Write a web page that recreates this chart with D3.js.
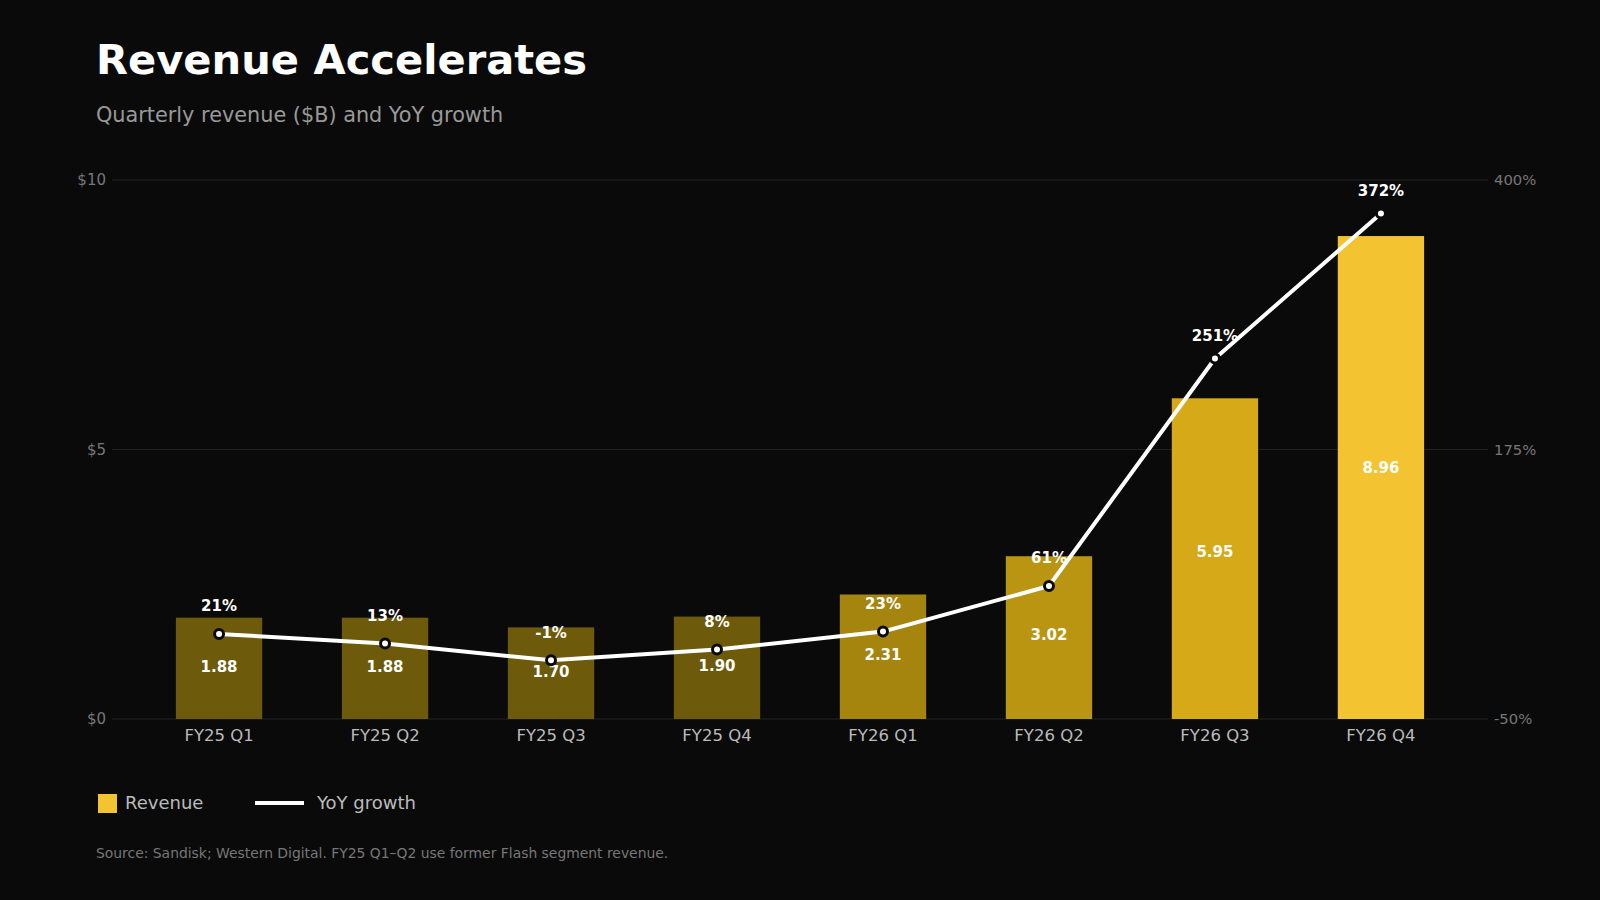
<!DOCTYPE html>
<html>
<head>
    <title>Revenue Accelerates</title>
    <script src="https://d3js.org/d3.v7.min.js"></script>
    <style>
        html, body { margin: 0; padding: 0; background: #0a0a0a; }
        svg { display: block; font-family: "DejaVu Sans", sans-serif; }
    </style>
</head>
<body>
    <div class="chart"></div>
    <script>
        // Data
        const quarters = ["FY25 Q1", "FY25 Q2", "FY25 Q3", "FY25 Q4", "FY26 Q1", "FY26 Q2", "FY26 Q3", "FY26 Q4"];
        const revenue = [1.88, 1.88, 1.70, 1.90, 2.31, 3.02, 5.95, 8.96];
        const growth = [21, 13, -1, 8, 23, 61, 251, 372];
        const revenueTicks = [0, 5, 10];
        const growthTicks = [-50, 175, 400];
        const barColors = ["#6e5a0b", "#6e5a0b", "#6e5a0b", "#6e5a0b", "#a6850f", "#b99512", "#d5a918", "#f3c331"];

        const W = 1600, H = 900;
        const plot = {left: 112, right: 1488, top: 180, bottom: 719};

        const svg = d3.select(".chart")
            .append("svg")
            .attr("width", W)
            .attr("height", H);

        svg.append("rect").attr("width", W).attr("height", H).attr("fill", "#0a0a0a");

        // Title block
        svg.append("text")
            .attr("x", 96).attr("y", 74)
            .attr("fill", "#ffffff")
            .attr("font-size", 41.6).attr("font-weight", "bold")
            .text("Revenue Accelerates");

        svg.append("text")
            .attr("x", 96).attr("y", 122)
            .attr("fill", "#999999")
            .attr("font-size", 20.8)
            .text("Quarterly revenue ($B) and YoY growth");

        // Scales
        const x = d3.scaleBand()
            .domain(quarters)
            .range([plot.left, plot.right])
            .paddingInner(0.48)
            .paddingOuter(0.385);

        const yL = d3.scaleLinear().domain([0, 10]).range([plot.bottom, plot.top]);
        const yR = d3.scaleLinear().domain([-50, 400]).range([plot.bottom, plot.top]);

        // Gridlines
        svg.append("g")
            .selectAll("line")
            .data(revenueTicks)
            .join("line")
            .attr("x1", plot.left).attr("x2", plot.right)
            .attr("y1", d => yL(d)).attr("y2", d => yL(d))
            .attr("stroke", "#222222")
            .attr("stroke-width", 1);

        // Left axis
        const leftAxis = svg.append("g")
            .attr("transform", `translate(${plot.left},0)`)
            .call(d3.axisLeft(yL).tickValues(revenueTicks).tickFormat(d => "$" + d).tickSize(0).tickPadding(6));
        leftAxis.select(".domain").remove();
        leftAxis.selectAll("text").attr("fill", "#777777").attr("font-size", 15).attr("font-family", "DejaVu Sans");

        // Right axis
        const rightAxis = svg.append("g")
            .attr("transform", `translate(${plot.right},0)`)
            .call(d3.axisRight(yR).tickValues(growthTicks).tickFormat(d => d + "%").tickSize(0).tickPadding(6));
        rightAxis.select(".domain").remove();
        rightAxis.selectAll("text").attr("fill", "#777777").attr("font-size", 14.8).attr("font-family", "DejaVu Sans");

        // Bottom axis
        const bottomAxis = svg.append("g")
            .attr("transform", `translate(0,${plot.bottom})`)
            .call(d3.axisBottom(x).tickSize(0).tickPadding(10));
        bottomAxis.select(".domain").remove();
        bottomAxis.selectAll("text").attr("fill", "#bbbbbb").attr("font-size", 16.5).attr("font-family", "DejaVu Sans");

        const rows = quarters.map((q, i) => ({q, rev: revenue[i], g: growth[i], color: barColors[i]}));

        // Bars
        svg.append("g")
            .selectAll("rect")
            .data(rows)
            .join("rect")
            .attr("x", d => x(d.q))
            .attr("y", d => yL(d.rev))
            .attr("width", x.bandwidth())
            .attr("height", d => yL(0) - yL(d.rev))
            .attr("fill", d => d.color);

        // Revenue labels inside bars
        svg.append("g")
            .selectAll("text")
            .data(rows)
            .join("text")
            .attr("x", d => x(d.q) + x.bandwidth() / 2)
            .attr("y", d => yL(d.rev * 0.52))
            .attr("dy", "0.35em")
            .attr("text-anchor", "middle")
            .attr("fill", "#ffffff")
            .attr("font-size", 15).attr("font-weight", "bold")
            .text(d => d.rev.toFixed(2));

        // Growth line
        const line = d3.line()
            .x(d => x(d.q) + x.bandwidth() / 2)
            .y(d => yR(d.g));

        svg.append("path")
            .datum(rows)
            .attr("d", line)
            .attr("fill", "none")
            .attr("stroke", "#ffffff")
            .attr("stroke-width", 4)
            .attr("stroke-linejoin", "round");

        svg.append("g")
            .selectAll("circle")
            .data(rows)
            .join("circle")
            .attr("cx", d => x(d.q) + x.bandwidth() / 2)
            .attr("cy", d => yR(d.g))
            .attr("r", 4.5)
            .attr("fill", "#ffffff")
            .attr("stroke", "#0a0a0a")
            .attr("stroke-width", 3);

        // Growth labels: closer to the point when it sits above the bar
        svg.append("g")
            .selectAll("text")
            .data(rows)
            .join("text")
            .attr("x", d => x(d.q) + x.bandwidth() / 2)
            .attr("y", d => yR(d.g) - (yR(d.g) < yL(d.rev) ? 22.5 : 28))
            .attr("dy", "0.35em")
            .attr("text-anchor", "middle")
            .attr("fill", "#ffffff")
            .attr("font-size", 15).attr("font-weight", "bold")
            .text(d => d.g + "%");

        // Legend
        const legend = svg.append("g");
        legend.append("rect")
            .attr("x", 98).attr("y", 794)
            .attr("width", 19).attr("height", 19)
            .attr("fill", "#f3c331");
        legend.append("text")
            .attr("x", 125).attr("y", 809)
            .attr("fill", "#bbbbbb").attr("font-size", 18)
            .text("Revenue");
        legend.append("line")
            .attr("x1", 255).attr("x2", 304)
            .attr("y1", 803).attr("y2", 803)
            .attr("stroke", "#ffffff").attr("stroke-width", 4);
        legend.append("text")
            .attr("x", 317).attr("y", 809)
            .attr("fill", "#bbbbbb").attr("font-size", 18)
            .text("YoY growth");

        // Source note
        svg.append("text")
            .attr("x", 96).attr("y", 858)
            .attr("fill", "#777777").attr("font-size", 13.9)
            .text("Source: Sandisk; Western Digital. FY25 Q1–Q2 use former Flash segment revenue.");
    </script>
</body>
</html>
